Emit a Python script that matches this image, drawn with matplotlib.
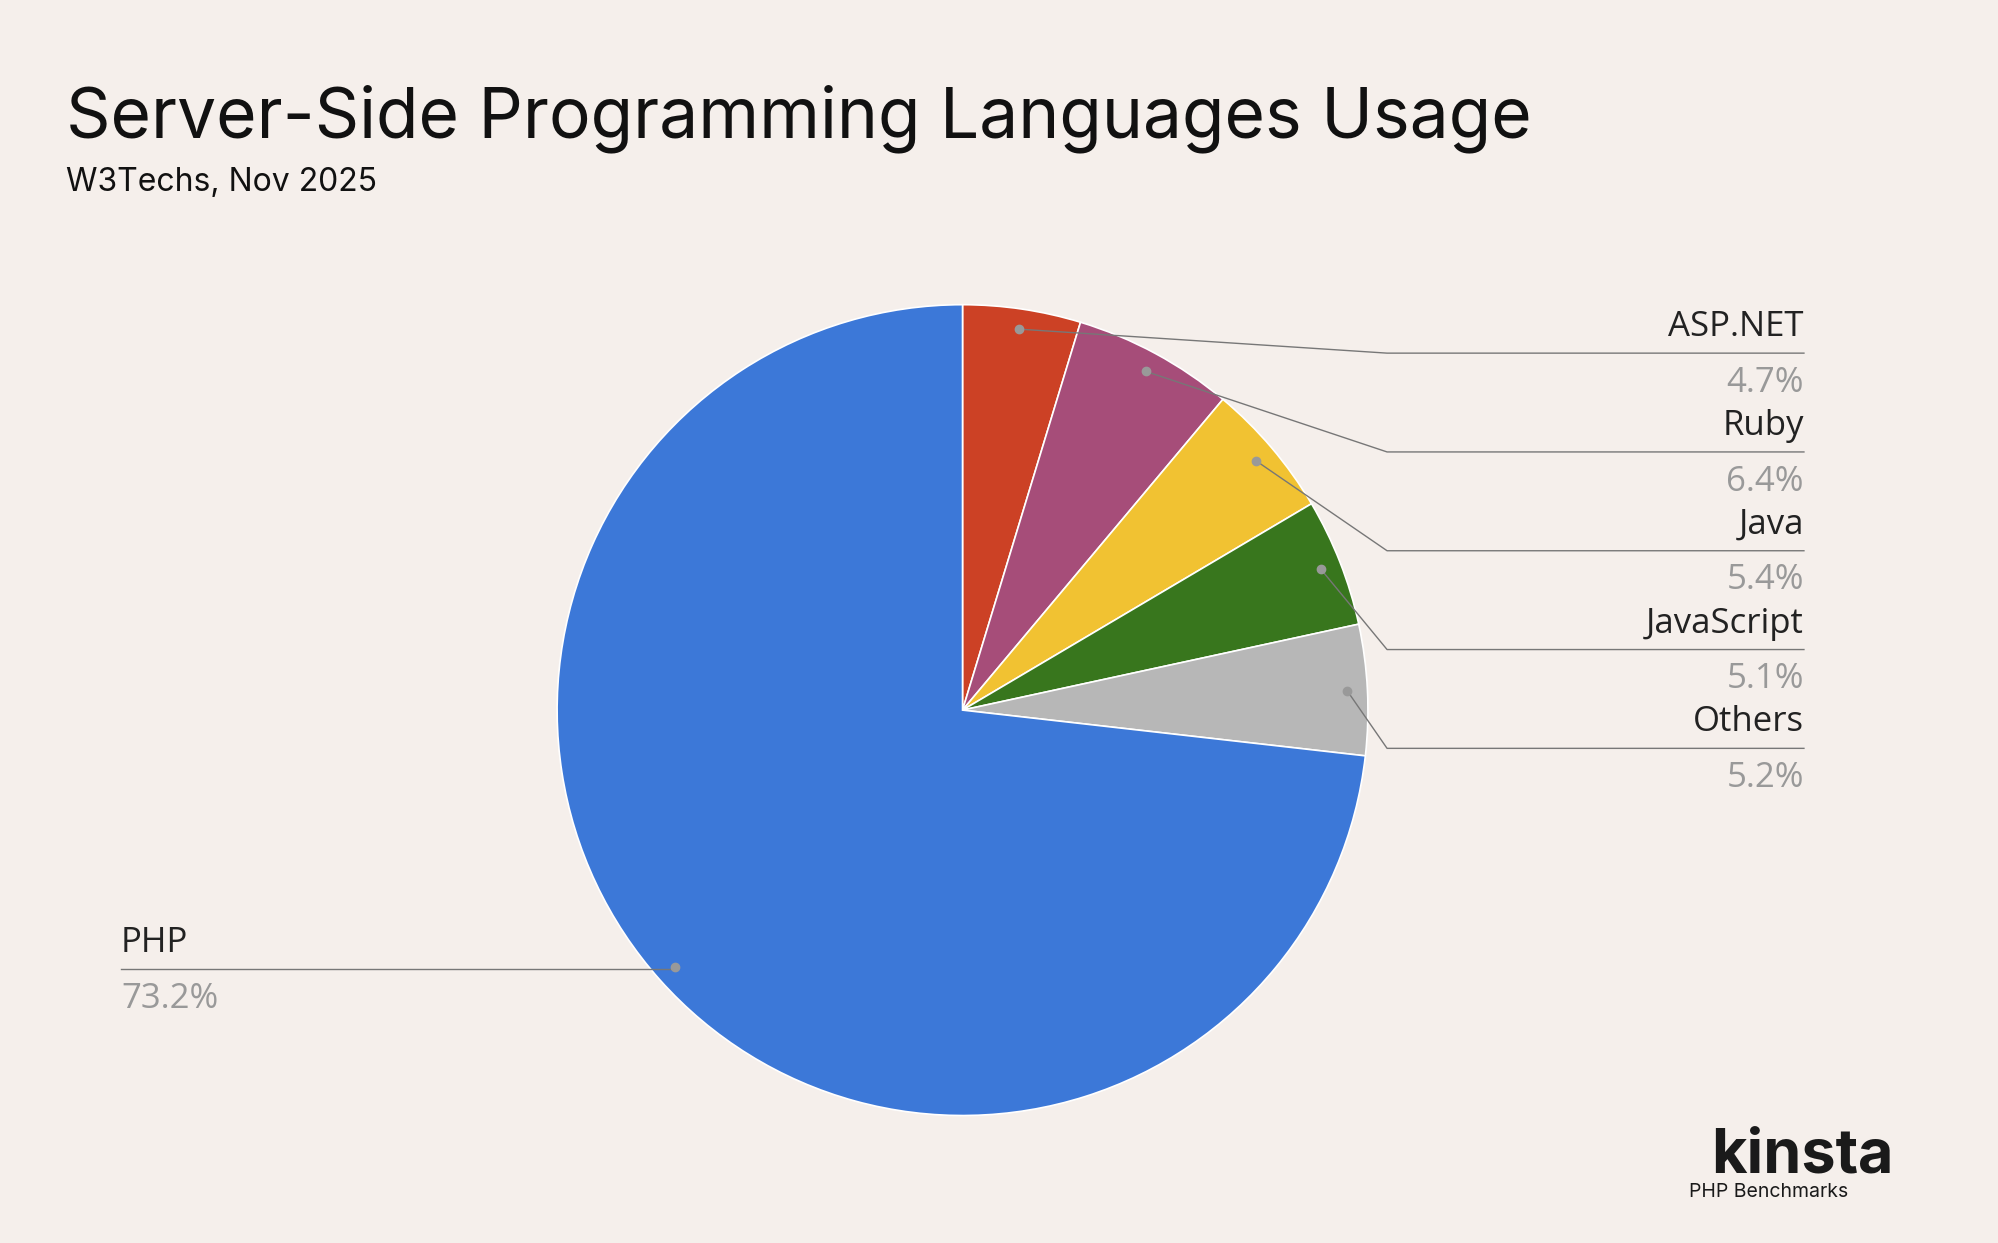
import numpy as np
import matplotlib.pyplot as plt

# data
languages = ['ASP.NET', 'Ruby', 'Java', 'JavaScript', 'Others', 'PHP']
shares = [4.7, 6.4, 5.4, 5.1, 5.2, 73.2]
colors = ['#CC4125', '#A64D79', '#F1C232', '#38761D', '#B7B7B7', '#3C78D8']

BG = '#F5EFEB'
W, H = 1568, 975  # layout units (reference px scale)

fig = plt.figure(figsize=(19.99, 12.43), dpi=100, facecolor=BG)
ax = fig.add_axes([0, 0, 1, 1])

def Y(y):
    return H - y

cx, cy, r = 755, 557, 318
ax.pie(shares, colors=colors, startangle=90, counterclock=False,
       center=(cx, Y(cy)), radius=r, frame=True,
       wedgeprops=dict(edgecolor='white', linewidth=1.2))
ax.set_xlim(0, W)
ax.set_ylim(0, H)
ax.set_aspect('equal')
ax.axis('off')

# label positions
label_font = ['Open Sans', 'DejaVu Sans']
cum = 0
right_y = 277
for name, val in zip(languages, shares):
    mid = 90 - (cum + val / 2) * 3.6
    cum += val
    dx = cx + 0.95 * r * np.cos(np.radians(mid))
    dy = Y(cy) + 0.95 * r * np.sin(np.radians(mid))
    ax.plot(dx, dy, 'o', color='#999999', ms=6, zorder=5)
    if name == 'PHP':
        ly = Y(760)
        ax.plot([dx, 95], [ly, ly], color='#777777', lw=1, zorder=4)
        ax.text(95, ly + 7, name, ha='left', va='bottom', fontsize=25,
                family=label_font, color='#222222')
        ax.text(95, ly - 10, f'{val}%', ha='left', va='top', fontsize=25,
                family=label_font, color='#999999')
    else:
        ly = Y(right_y)
        ax.plot([dx, 1088, 1415], [dy, ly, ly], color='#777777', lw=1, zorder=4)
        ax.text(1415, ly + 7, name, ha='right', va='bottom', fontsize=25,
                family=label_font, color='#222222')
        ax.text(1415, ly - 10, f'{val}%', ha='right', va='top', fontsize=25,
                family=label_font, color='#999999')
        right_y += 77.5

# titles
title_font = ['Inter', 'DejaVu Sans']
fig.text(52 / W, 1 - 108 / H, 'Server-Side Programming Languages Usage',
         fontsize=50, family=title_font, color='#111111', va='baseline')
fig.text(52 / W, 1 - 150 / H, 'W3Techs, Nov 2025',
         fontsize=23, family=title_font, color='#111111', va='baseline')

# logo
fig.text(1485 / W, 1 - 920 / H, 'kinsta', fontsize=44, fontweight='bold',
         family=title_font, color='#1a1a1a', ha='right', va='baseline')
fig.text(1325 / W, 1 - 939 / H, 'PHP Benchmarks', fontsize=14,
         family=title_font, color='#1a1a1a', ha='left', va='baseline')

fig.savefig('out.png', dpi=100, facecolor=BG)
